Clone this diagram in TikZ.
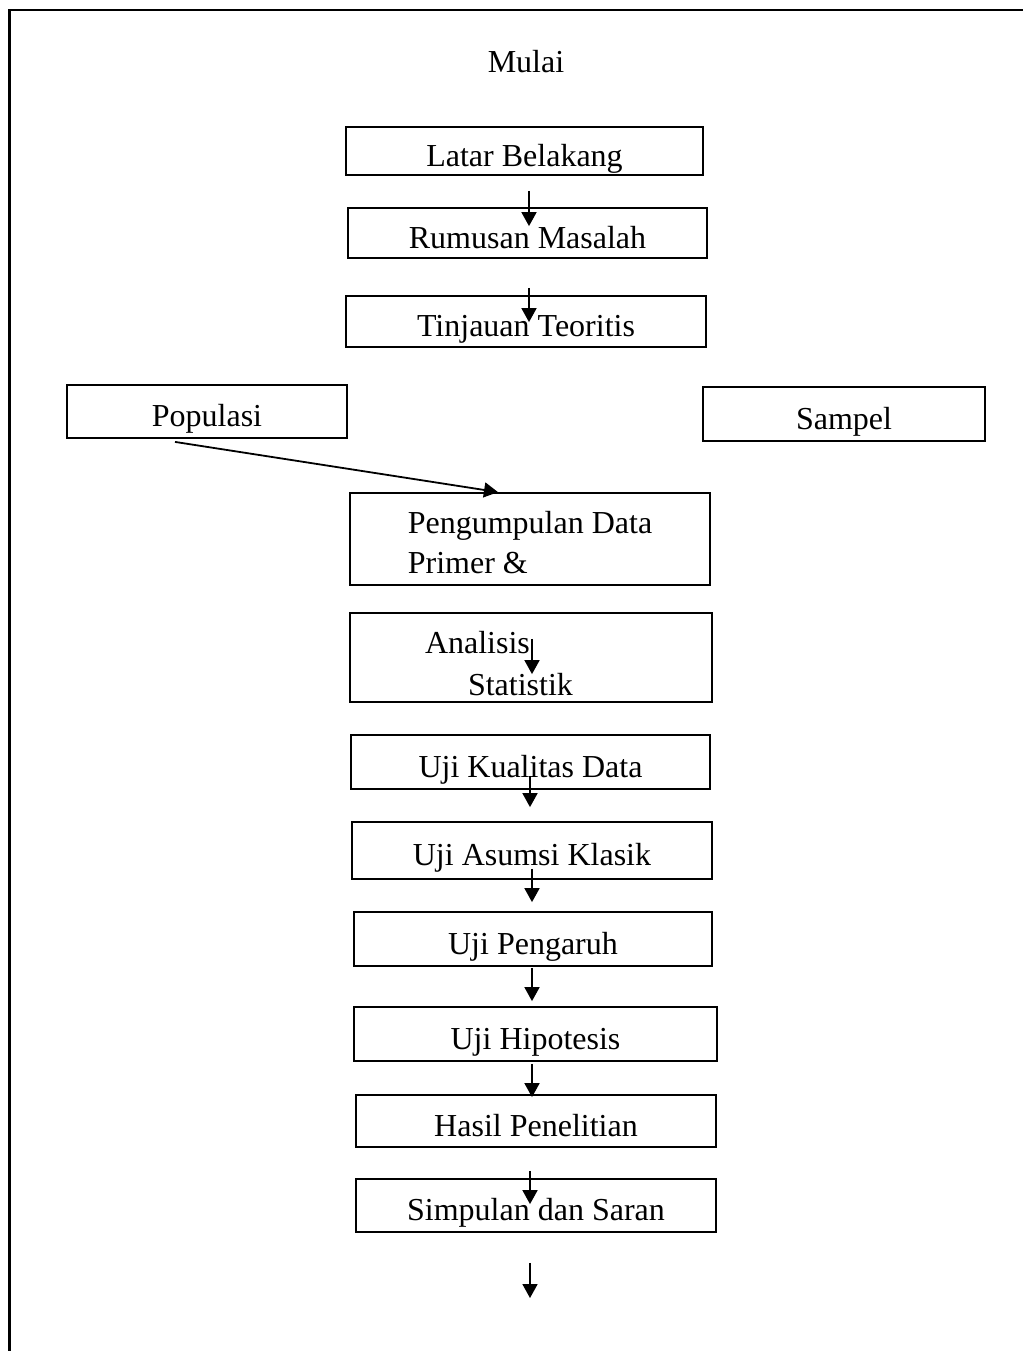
\documentclass[tikz,border=0pt]{standalone}
\usepackage{fontspec}
\setmainfont{Liberation Serif}
\usepackage{tikz}
\usetikzlibrary{arrows.meta,positioning}

\begin{document}
\begin{tikzpicture}[x=0.5pt,y=-0.5pt,
box/.style={draw,line width=0.9pt,inner sep=0pt,minimum width=180pt,minimum height=26pt,font=\fontsize{16}{20}\selectfont},
satu/.style={text height=15pt,text depth=0pt},
arrow/.style={-{Triangle[length=7pt,width=7.5pt]},line width=0.9pt}
]
\useasboundingbox (0,0) rectangle (1023,1351);
\draw[line width=1.2pt] (9.5,1351) -- (9.5,10) -- (1023,10);

\node[font=\fontsize{16}{20}\selectfont,anchor=base] (mulai) at (526,72) {Mulai};

\node[box,satu,minimum width=178.5pt,minimum height=24pt] (lat) at (524.5,151) {Latar Belakang};
\node[box,satu,minimum width=179.5pt,minimum height=25pt] (rum) at (527.5,233) {Rumusan Masalah};
\node[box,satu,minimum height=25.5pt] (tin) at (526,321.5) {Tinjauan Teoritis};
\node[box,satu,minimum width=140pt,minimum height=26.5pt] (pop) at (207,411.5) {Populasi};
\node[box,satu,minimum width=141pt,minimum height=27pt] (sam) at (844,414) {Sampel};
\node[box,align=left,minimum height=46pt] (pen) at (530,539) {\rule{0pt}{15pt}Pengumpulan Data\\Primer \&};
\node[box,align=left,text width=106pt,minimum width=181pt,minimum height=44.5pt,
  font=\fontsize{16}{21}\selectfont] (ana) at (531,657.5) {\rule{0pt}{17pt}Analisis\\\hspace*{21.5pt}Statistik};
\node[box,satu,minimum width=179.5pt,minimum height=27pt] (kua) at (530.5,762) {Uji Kualitas Data};
\node[box,satu,minimum height=28.5pt] (asu) at (532,850.5) {Uji Asumsi Klasik};
\node[box,satu,minimum width=179pt,minimum height=27pt] (pgr) at (533,939) {Uji Pengaruh};
\node[box,satu,minimum width=181.5pt,minimum height=27pt] (hip) at (535.5,1034) {Uji Hipotesis};
\node[box,satu] (has) at (536,1121) {Hasil Penelitian};
\node[box,satu,minimum height=26.5pt] (sim) at (536,1205.5) {Simpulan dan Saran};
\coordinate (selesai) at (530,1298);

% alur
\draw[arrow] ([shift={(4.5,15)}]lat.south) -- ([shift={(1.5,19)}]rum.north);
\draw[arrow] ([shift={(1.5,29)}]rum.south) -- ([shift={(3,27)}]tin.north);
\draw[arrow] ([shift={(-32,3)}]pop.south) -- ([shift={(-32,0)}]pen.north);
\draw[arrow] ([shift={(2,53)}]pen.south) -- ([shift={(1,62)}]ana.north);
\draw[arrow] ([shift={(-0.5,-14)}]kua.south) -- ([shift={(-2,-14)}]asu.north);
\draw[arrow] ([shift={(0,-11)}]asu.south) -- ([shift={(-1,-9)}]pgr.north);
\draw[arrow] ([shift={(-1,1)}]pgr.south) -- ([shift={(-3.5,-5)}]hip.north);
\draw[arrow] ([shift={(-3.5,2)}]hip.south) -- ([shift={(-4,3)}]has.north);
\draw[arrow] ([shift={(-6,23)}]has.south) -- ([shift={(-6,26)}]sim.north);
\draw[arrow] ([shift={(-6,30)}]sim.south) -- (selesai);
\end{tikzpicture}
\end{document}
